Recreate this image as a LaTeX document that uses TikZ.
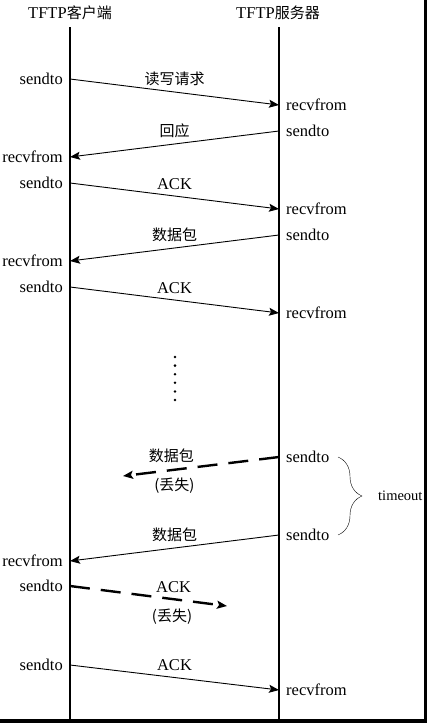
\documentclass[tikz,border=0pt]{standalone}
\usepackage{fontspec}
\setmainfont{Liberation Serif}
\newfontfamily\cjk{Noto Sans CJK SC}
\usetikzlibrary{arrows.meta,decorations.pathreplacing}

\begin{document}
\begin{tikzpicture}[x=1pt,y=-1pt,>={Stealth[length=10pt,width=8pt,inset=2pt]},
		lbl/.style={font=\fontsize{16.5}{17}\selectfont,inner sep=1pt},
		msg/.style={font=\cjk\fontsize{15}{17}\selectfont,inner sep=1pt},
		sig/.style={->,line width=0.9pt},
		lost/.style={->,line width=2.4pt,dash pattern=on 20pt off 11pt}]
	\useasboundingbox (0,0) rectangle (427,723);
	\fill (423.5,0) rectangle (427,723);
	\fill (0,719) rectangle (427,723);
	% lifelines
	\node[lbl] (cli) at (70,13) {TFTP{\cjk\fontsize{15}{17}\selectfont 客户端}};
	\node[lbl] (srv) at (278,13) {TFTP{\cjk\fontsize{15}{17}\selectfont 服务器}};
	\coordinate (ctop) at (70,27); \coordinate (cbot) at (70,719);
	\coordinate (stop) at (279,27); \coordinate (sbot) at (279,719);
	\draw[line width=1.2pt] (ctop)--(cbot) (stop)--(sbot);
	% points on the lifelines
	\foreach \n/\y in {c1/79,c2/157,c3/183,c4/261,c5/287,c6/561,c7/586,c8/665}
		\coordinate (\n) at (70,\y);
	\foreach \n/\y in {s1/105,s2/131,s3/209,s4/235,s5/313,s6/457,s7/535,s8/690}
		\coordinate (\n) at (279,\y);
	\foreach \n in {c1,c3,c5,c7,c8} \node[lbl,left=6pt] (l\n) at (\n) {sendto};
	\foreach \n in {c2,c4,c6} \node[lbl,left=6pt] (l\n) at (\n) {recvfrom};
	\foreach \n in {s2,s4,s6,s7} \node[lbl,right=6pt] (l\n) at (\n) {sendto};
	\foreach \n in {s1,s3,s5,s8} \node[lbl,right=6pt] (l\n) at (\n) {recvfrom};
	% messages
	\draw[sig] (c1)--node[msg,above=5pt] (m1) {读写请求} (s1);
	\draw[sig] (s2)--node[msg,above=5pt] (m2) {回应} (c2);
	\draw[sig] (c3)--node[lbl,above=5pt] (m3) {ACK} (s3);
	\draw[sig] (s4)--node[msg,above=5pt] (m4) {数据包} (c4);
	\draw[sig] (c5)--node[lbl,above=5pt] (m5) {ACK} (s5);
	\foreach \y in {357,365.6,...,401} \fill (175,\y) circle (1.4pt);
	\coordinate (x6) at (123,476);
	\draw[lost] (s6)--node[pos=.69,msg,above=5pt] (m6) {数据包}
		node[pos=.67,msg,below=6pt] (n6) {(丢失)} (x6);
	\draw[sig] (s7)--node[msg,above=5pt] (m7) {数据包} (c6);
	\coordinate (x7) at (227,606);
	\draw[lost] (c7)--node[pos=.66,lbl,above=4pt] (m8) {ACK}
		node[pos=.65,msg,below=8pt] (n8) {(丢失)} (x7);
	\draw[sig] (c8)--node[lbl,above=5pt] (m9) {ACK} (s8);
	% timeout
	\coordinate (t1) at (338,457); \coordinate (t2) at (338,535);
	\draw[decorate,decoration={brace,amplitude=24pt}] (t1)--(t2)
		node[midway,right=39pt,font=\fontsize{14.5}{16}\selectfont,inner sep=1pt] (tmo) {timeout};
\end{tikzpicture}
\end{document}
